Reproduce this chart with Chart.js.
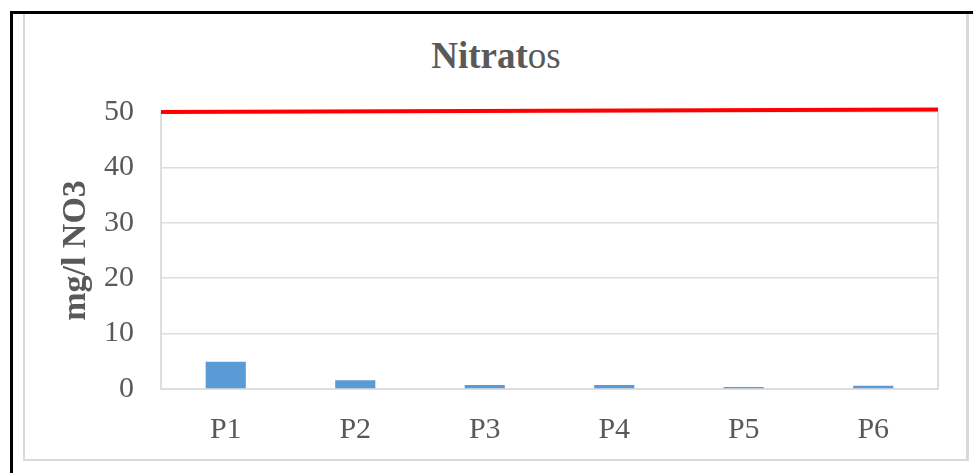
<!DOCTYPE html>
<html>
<head>
<meta charset="utf-8">
<title>Nitratos</title>
<script src="https://cdn.jsdelivr.net/npm/chart.js@4.4.1/dist/chart.umd.min.js"></script>
<style>
  html, body { margin: 0; padding: 0; background: #fff; width: 973px; height: 473px; overflow: hidden; }
  #frame { position: absolute; left: 10px; top: 11px; width: 990px; height: 490px;
           border-top: 3px solid #000; border-left: 3px solid #000; }
  #panel { position: absolute; left: 23px; top: 14px; width: 946px; height: 447px; box-sizing: border-box;
           border-left: 2px solid #d9d9d9; border-right: 3px solid #d9d9d9; border-bottom: 2px solid #d9d9d9; }
  #title { position: absolute; left: 23px; width: 946px; top: 37px; text-align: center;
           font-family: 'Liberation Serif', 'Times New Roman', serif; font-size: 37px; line-height: 37px;
           font-weight: normal; color: #595959; }
  #title b { font-weight: bold; }
  #chart { position: absolute; left: 0; top: 0; }
</style>
</head>
<body>
<div id="frame"></div>
<div id="panel"></div>
<div id="title"><b>Nitrat</b>os</div>
<canvas id="chart" width="973" height="473"></canvas>
<script>
// Sampling points and measured nitrate concentration (mg/l NO3)
const categories = ['P1', 'P2', 'P3', 'P4', 'P5', 'P6'];
const nitrateValues = [4.9, 1.6, 0.7, 0.7, 0.35, 0.6];
// Limit line (50 mg/l), start and end of the plot width
const limitValues = [50, 50.45];
const yTicks = [0, 10, 20, 30, 40, 50];

const serif = "'Liberation Serif', 'Times New Roman', serif";
const textGrey = '#595959';
const gridGrey = '#dedede';

// Light frame around the plotting area
const plotFrame = {
  id: 'plotFrame',
  beforeDatasetsDraw(chart) {
    const { ctx, chartArea: a } = chart;
    ctx.save();
    ctx.strokeStyle = gridGrey;
    ctx.lineWidth = 2;
    ctx.beginPath();
    ctx.moveTo(a.left, a.top);
    ctx.lineTo(a.left, a.bottom);
    ctx.lineTo(a.right, a.bottom);
    ctx.lineTo(a.right, a.top);
    ctx.stroke();
    ctx.restore();
  }
};

new Chart(document.getElementById('chart'), {
  type: 'bar',
  data: {
    labels: categories,
    datasets: [
      {
        type: 'line',
        label: 'Límite',
        xAxisID: 'xLimit',
        data: limitValues.map((v, i) => ({ x: i * categories.length, y: v })),
        borderColor: '#ff0000',
        borderWidth: 4,
        pointRadius: 0,
        fill: false,
        clip: false,
        order: 1
      },
      {
        label: 'Nitratos',
        xAxisID: 'x',
        data: nitrateValues,
        backgroundColor: '#5b9bd5',
        borderWidth: 0,
        grouped: false,
        barPercentage: 0.31,
        categoryPercentage: 1,
        order: 2
      }
    ]
  },
  options: {
    responsive: false,
    animation: false,
    devicePixelRatio: 1,
    layout: { padding: { left: 52, top: 112, right: 35, bottom: 24 } },
    plugins: {
      legend: { display: false },
      tooltip: { enabled: false },
      title: { display: false }
    },
    scales: {
      x: {
        type: 'category',
        grid: { display: false, drawTicks: false },
        border: { display: false },
        ticks: { color: textGrey, font: { family: serif, size: 30 }, padding: 23, maxRotation: 0 },
        afterFit(scale) { scale.height = 60; }
      },
      xLimit: {
        type: 'linear',
        display: false,
        offset: false,
        min: 0,
        max: categories.length
      },
      y: {
        min: 0,
        max: 50,
        afterBuildTicks(scale) { scale.ticks = yTicks.map(v => ({ value: v })); },
        grid: { color: gridGrey, lineWidth: 1.5, drawTicks: false },
        border: { display: false },
        ticks: { color: textGrey, font: { family: serif, size: 30 }, padding: 27 },
        title: {
          display: true,
          text: 'mg/l NO3',
          color: textGrey,
          font: { family: serif, size: 34, weight: 'bold' },
          padding: { top: 4, bottom: 4 }
        },
        afterFit(scale) { scale.width = 109; }
      }
    }
  },
  plugins: [plotFrame]
});
</script>
</body>
</html>
